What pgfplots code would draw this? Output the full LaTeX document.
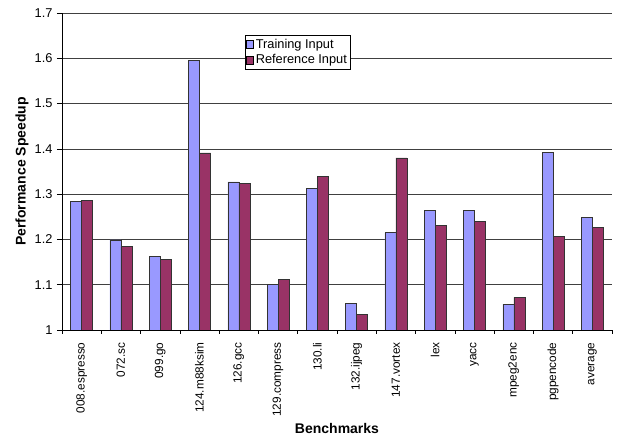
\documentclass[border=0pt]{standalone}
\usepackage{pgfplots}
\pgfplotsset{compat=1.18}
\usepackage{fontspec}
\setmainfont{Liberation Sans}
\definecolor{trainc}{HTML}{9999FF}
\definecolor{refc}{HTML}{993366}
\begin{document}
\begin{tikzpicture}
\begin{axis}[
  scale only axis,
  width=550bp, height=317bp,
  ymin=1, ymax=1.7,
  ytick={1,1.1,...,1.7},
  yticklabel style={/pgf/number format/fixed, /pgf/number format/precision=1},
  /pgf/number format/assume math mode=true,
  xmin=-0.5, xmax=13.5,
  xtick={0,...,13},
  xticklabels={008.espresso,072.sc,099.go,124.m88ksim,126.gcc,129.compress,130.li,132.ijpeg,147.vortex,lex,yacc,mpeg2enc,pgpencode,average},
  xticklabel style={rotate=90, anchor=east, font=\fontsize{11.8bp}{13bp}\selectfont, xshift=-4bp},
  yticklabel style={font=\fontsize{12.8bp}{14bp}\selectfont, xshift=-1bp},
  major x tick style={draw=none},
  minor xtick={-0.5,0.5,...,13.5},
  minor tick length=4bp,
  major tick length=5bp,
  tick align=outside,
  tick style={black, line width=0.6pt},
  axis x line*=bottom,
  axis y line*=left,
  axis line style={black, line width=0.6pt, -},
  ymajorgrids,
  grid style={black!75, line width=0.6pt},
  ylabel={Performance Speedup},
  xlabel={Benchmarks},
  label style={font=\fontsize{14bp}{16bp}\selectfont\bfseries},
  ylabel style={at={(axis description cs:0,0.5)}, anchor=center, rotate=0, yshift=40bp},
  xlabel style={at={(axis description cs:0.5,0)}, anchor=center, yshift=-99bp},
  ybar=0pt,
  bar width=0.28,
  legend style={at={(axis cs:4.15,1.651)}, anchor=north west, draw=black, line width=0.5pt,
    font=\fontsize{12.8bp}{14bp}\selectfont, inner xsep=1bp, inner ysep=1.5bp, row sep=1bp,
    legend cell align=left},
  legend image code/.code={\draw[#1, draw=black, line width=0.4pt] (0bp,-3.8bp) rectangle (7.5bp,3.8bp);},
]
\addplot[fill=trainc, draw=black!80, line width=0.5pt] coordinates {
 (0,1.284) (1,1.199) (2,1.163) (3,1.596) (4,1.327) (5,1.101) (6,1.312)
 (7,1.059) (8,1.215) (9,1.264) (10,1.264) (11,1.057) (12,1.392) (13,1.249)};
\addplot[fill=refc, draw=black!80, line width=0.5pt] coordinates {
 (0,1.287) (1,1.184) (2,1.156) (3,1.391) (4,1.324) (5,1.112) (6,1.340)
 (7,1.034) (8,1.380) (9,1.231) (10,1.240) (11,1.072) (12,1.206) (13,1.227)};
\legend{Training Input, Reference Input}
\end{axis}
\pgfresetboundingbox
\path[use as bounding box] ([xshift=-62bp,yshift=-108bp]current axis.south west) rectangle ([xshift=7bp,yshift=13bp]current axis.north east);
\end{tikzpicture}
\end{document}
